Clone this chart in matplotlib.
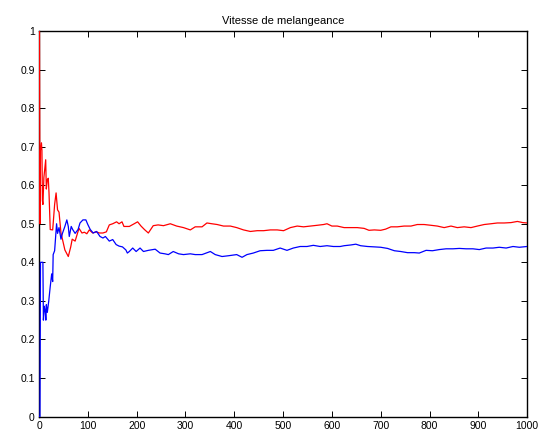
import numpy as np
import matplotlib
matplotlib.use("Agg")
import matplotlib.pyplot as plt

# valeurs (iteration, proportion)
red_x = [1, 2, 3, 5, 6, 7, 8, 10, 13.7, 15, 17, 19, 20.5, 23, 28, 29, 32, 35, 38, 41, 45, 48,
         53, 60, 65, 68, 74, 79, 82, 88, 93, 98, 103, 110, 117, 124, 131, 138, 141, 144, 151,
         159, 164, 170, 174, 185, 195, 202, 209, 216, 224, 234, 244, 255, 269, 282, 296, 310,
         320, 334, 344, 354, 365, 378, 392, 405, 419, 433, 447, 460, 474, 488, 501, 515, 529,
         542, 556, 570, 583, 590, 600, 611, 625, 639, 652, 666, 676, 687, 700, 710, 721, 734,
         748, 762, 775, 789, 803, 816, 830, 844, 857, 871, 885, 898, 912, 926, 939, 953, 967,
         980, 991, 1000]
red_y = [1.0, 0.50, 0.69, 0.71, 0.69, 0.56, 0.55, 0.62, 0.666, 0.59, 0.614, 0.618, 0.58, 0.485,
         0.484, 0.50, 0.55, 0.58, 0.536, 0.53, 0.476, 0.46, 0.432, 0.415, 0.44, 0.46, 0.455,
         0.476, 0.488, 0.476, 0.478, 0.474, 0.484, 0.476, 0.479, 0.476, 0.476, 0.479, 0.488,
         0.497, 0.50, 0.505, 0.50, 0.505, 0.493, 0.493, 0.50, 0.505, 0.494, 0.485, 0.476,
         0.495, 0.497, 0.495, 0.50, 0.494, 0.49, 0.484, 0.492, 0.492, 0.502, 0.50, 0.498,
         0.494, 0.494, 0.49, 0.484, 0.48, 0.482, 0.482, 0.484, 0.484, 0.482, 0.49, 0.494,
         0.492, 0.494, 0.496, 0.498, 0.50, 0.494, 0.494, 0.49, 0.49, 0.49, 0.488, 0.483,
         0.484, 0.483, 0.486, 0.492, 0.492, 0.494, 0.494, 0.498, 0.498, 0.496, 0.494, 0.49,
         0.494, 0.49, 0.492, 0.49, 0.494, 0.498, 0.50, 0.502, 0.502, 0.503, 0.506, 0.503, 0.502]

blue_x = [1, 2, 3, 8, 9, 11, 13, 14, 15, 17, 20, 23, 26, 28, 29, 32, 36, 38, 41, 45, 48, 53,
          57, 60, 62, 66, 69, 74, 80, 84, 90, 96, 100, 105, 111, 118, 125, 131, 136, 144, 151,
          158, 164, 171, 178, 181, 185, 192, 199, 207, 214, 224, 238, 248, 258, 265, 275, 286,
          296, 310, 320, 334, 351, 361, 375, 388, 405, 416, 426, 439, 453, 467, 480, 494, 508,
          521, 535, 549, 562, 576, 590, 603, 617, 625, 639, 649, 659, 673, 687, 700, 714, 728,
          741, 755, 769, 779, 793, 806, 820, 834, 848, 861, 875, 889, 902, 916, 930, 943, 957,
          971, 984, 1000]
blue_y = [0.0, 0.0, 0.40, 0.40, 0.25, 0.286, 0.27, 0.25, 0.29, 0.27, 0.30, 0.337, 0.37, 0.35,
          0.42, 0.43, 0.50, 0.475, 0.49, 0.46, 0.475, 0.493, 0.51, 0.493, 0.467, 0.493, 0.485,
          0.475, 0.485, 0.502, 0.51, 0.51, 0.498, 0.485, 0.476, 0.48, 0.467, 0.463, 0.467,
          0.455, 0.459, 0.446, 0.442, 0.44, 0.432, 0.424, 0.428, 0.437, 0.428, 0.437, 0.428,
          0.431, 0.434, 0.424, 0.422, 0.42, 0.428, 0.422, 0.42, 0.422, 0.42, 0.42, 0.428,
          0.42, 0.415, 0.417, 0.42, 0.413, 0.42, 0.424, 0.43, 0.431, 0.431, 0.437, 0.431,
          0.437, 0.441, 0.441, 0.444, 0.441, 0.443, 0.441, 0.441, 0.443, 0.445, 0.447, 0.443,
          0.441, 0.44, 0.439, 0.436, 0.43, 0.428, 0.425, 0.425, 0.424, 0.431, 0.43, 0.433,
          0.435, 0.435, 0.436, 0.435, 0.435, 0.433, 0.437, 0.437, 0.439, 0.437, 0.441, 0.439,
          0.441]

plt.rcParams['font.family'] = ['Liberation Sans', 'DejaVu Sans']

fig = plt.figure(figsize=(5.44, 4.34), dpi=100)
ax = fig.add_axes([0.0717, 0.0403, 0.8973, 0.8883])

ax.plot(red_x, red_y, color=(1, 0, 0), linewidth=0.9, zorder=3)
ax.plot(blue_x, blue_y, color=(0, 0, 1), linewidth=0.9, zorder=3)

ax.set_xlim(0, 1000)
ax.set_ylim(0, 1)
ax.set_xticks(np.arange(0, 1001, 100))
ax.set_yticks(np.arange(0, 1.01, 0.1))
ax.set_yticklabels(['0', '0.1', '0.2', '0.3', '0.4', '0.5', '0.6', '0.7', '0.8', '0.9', '1'])
ax.tick_params(direction='in', top=True, right=True, length=4, width=0.7,
               labelsize=7.5, pad=3)
for s in ax.spines.values():
    s.set_linewidth(1.0)
    s.set_zorder(2)

ax.set_title('Vitesse de melangeance', fontsize=8, pad=5)

fig.savefig('out.png', dpi=100)
